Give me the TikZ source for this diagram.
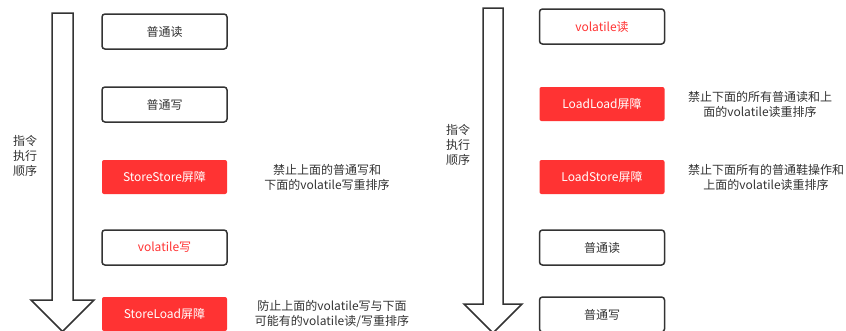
\documentclass[tikz,border=0pt]{standalone}
\usepackage{fontspec}
\setmainfont{Noto Sans CJK SC}
\definecolor{barred}{HTML}{FF3333}
\definecolor{inkgray}{HTML}{333333}

\begin{document}
\begin{tikzpicture}[x=1pt, y=-1pt,
	every node/.style = {font=\fontsize{12}{15}\selectfont, text=inkgray, align=center},
	opbox/.style = {draw=inkgray, line width=1.5pt, rounded corners=3pt, fill=white,
		minimum width=125pt, minimum height=35pt, inner sep=0pt},
	volop/.style = {opbox, text=barred},
	barrier/.style = {fill=barred, rounded corners=2pt, text=white,
		minimum width=125pt, minimum height=34pt, inner sep=0pt},
	flow/.style = {draw=inkgray, line width=1.5pt, fill=white, line join=miter}]
	\clip (0,0) rectangle (846,330);
	\fill[white] (0,0) rectangle (846,330);
	% left: volatile write
	\draw[flow] (52,13) -- (73,13) -- (73,300) -- (94,300) -- (62.5,331.5) -- (31,300) -- (52,300) -- cycle;
	\node (lorder) at (25,156) {指令\\执行\\顺序};
	\node[opbox] (rd1) at (164.5,31.5) {普通读};
	\node[opbox] (wr1) at (164.5,104.5) {普通写};
	\node[barrier] (ss) at (164.5,177) {StoreStore屏障};
	\node[volop] (vw) at (164.5,247.5) {volatile写};
	\node[barrier] (sl) at (164.5,314) {StoreLoad屏障};
	\node (ssnote) at (327,177.5) {禁止上面的普通写和\\下面的volatile写重排序};
	\node (slnote) at (332,314.5) {防止上面的volatile写与下面\\可能有的volatile读/写重排序};
	% right: volatile read
	\draw[flow] (483,8) -- (503,8) -- (503,304) -- (522,304) -- (493,333) -- (464,304) -- (483,304) -- cycle;
	\node (rorder) at (458,145) {指令\\执行\\顺序};
	\node[volop] (vr) at (602,26.5) {volatile读};
	\node[barrier] (ll) at (602,104) {LoadLoad屏障};
	\node[barrier] (ls) at (602,177) {LoadStore屏障};
	\node[opbox] (rd2) at (602,247.5) {普通读};
	\node[opbox] (wr2) at (602,314.5) {普通写};
	\node (llnote) at (760,104.5) {禁止下面的所有普通读和上\\面的volatile读重排序};
	\node (lsnote) at (766,177.5) {禁止下面所有的普通鞋操作和\\上面的volatile读重排序};
\end{tikzpicture}
\end{document}
